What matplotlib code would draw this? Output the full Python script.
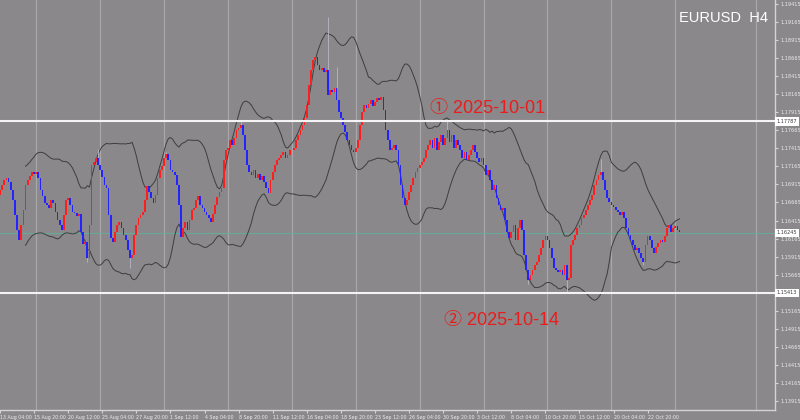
import numpy as np
import pandas as pd
import matplotlib
matplotlib.use("Agg")
import matplotlib.pyplot as plt

symbol = "EURUSD"
timeframe = "H4"

# H4 closes 12 Aug 00:00 .. 15 Aug 00:00 (only feed the Bollinger bands)
warmup_closes = [1.1621, 1.1628, 1.1635, 1.1649, 1.1663, 1.1670, 1.1677, 1.1684, 1.1691, 1.1698,
                 1.1700, 1.1695, 1.1684, 1.1670, 1.1649, 1.1628, 1.1614, 1.1635, 1.1656]

# H4 closes from 15 Aug 04:00 to 27 Oct 08:00
closes = [
    1.1691, 1.1698, 1.1703, 1.1709, 1.1706,
    1.1709, 1.1700, 1.1684, 1.1675, 1.1666, 1.1663,
    1.1659, 1.1670, 1.1666, 1.1653, 1.1642, 1.1635,
    1.1628, 1.1649, 1.1670, 1.1673, 1.1663, 1.1653,
    1.1652, 1.1648, 1.1651, 1.1626, 1.1609, 1.1612,
    1.1590, 1.1635, 1.1718, 1.1723, 1.1728, 1.1718,
    1.1711, 1.1702, 1.1691, 1.1687, 1.1649, 1.1617,
    1.1612, 1.1626, 1.1635, 1.1639, 1.1631, 1.1621,
    1.1614, 1.1601, 1.1590, 1.1594, 1.1621, 1.1635,
    1.1645, 1.1649, 1.1653, 1.1670, 1.1689, 1.1681,
    1.1673, 1.1666, 1.1677, 1.1700, 1.1711, 1.1717,
    1.1728, 1.1734, 1.1725, 1.1711, 1.1709, 1.1704,
    1.1691, 1.1663, 1.1619, 1.1631, 1.1639, 1.1628,
    1.1642, 1.1656, 1.1659, 1.1670, 1.1675, 1.1663,
    1.1659, 1.1653, 1.1649, 1.1645, 1.1639, 1.1651,
    1.1663, 1.1674, 1.1681, 1.1687, 1.1725, 1.1739,
    1.1742, 1.1753, 1.1746, 1.1756, 1.1767, 1.1770,
    1.1774, 1.1760, 1.1739, 1.1718, 1.1709, 1.1704,
    1.1711, 1.1700, 1.1706, 1.1698, 1.1703, 1.1695,
    1.1687, 1.1680, 1.1698, 1.1709, 1.1718, 1.1725,
    1.1728, 1.1732, 1.1736, 1.1728, 1.1732, 1.1739,
    1.1739, 1.1742, 1.1753, 1.1760, 1.1767, 1.1774,
    1.1783, 1.1801, 1.1829, 1.1850, 1.1864, 1.1868,
    1.1857, 1.1850, 1.1853, 1.1847, 1.1850, 1.1815,
    1.1822, 1.1820, 1.1825, 1.1808, 1.1792, 1.1783,
    1.1774, 1.1764, 1.1753, 1.1746, 1.1739, 1.1736,
    1.1742, 1.1753, 1.1774, 1.1792, 1.1801, 1.1797,
    1.1803, 1.1808, 1.1800, 1.1806, 1.1811, 1.1808,
    1.1813, 1.1795, 1.1767, 1.1753, 1.1739, 1.1742,
    1.1746, 1.1739, 1.1718, 1.1691, 1.1673, 1.1663,
    1.1670, 1.1681, 1.1691, 1.1700, 1.1709, 1.1714,
    1.1718, 1.1723, 1.1728, 1.1739, 1.1746, 1.1753,
    1.1742, 1.1756, 1.1739, 1.1750, 1.1760, 1.1746,
    1.1756, 1.1767, 1.1750, 1.1760, 1.1742, 1.1753,
    1.1746, 1.1739, 1.1728, 1.1736, 1.1725, 1.1732,
    1.1739, 1.1746, 1.1736, 1.1728, 1.1723, 1.1728,
    1.1718, 1.1704, 1.1711, 1.1698, 1.1684, 1.1691,
    1.1673, 1.1663, 1.1656, 1.1659, 1.1642, 1.1626,
    1.1617, 1.1626, 1.1635, 1.1614, 1.1631, 1.1642,
    1.1628, 1.1594, 1.1573, 1.1559, 1.1566, 1.1573,
    1.1580, 1.1584, 1.1594, 1.1603, 1.1614, 1.1620,
    1.1614, 1.1603, 1.1590, 1.1576, 1.1573, 1.1570,
    1.1573, 1.1566, 1.1580, 1.1559, 1.1562, 1.1608,
    1.1614, 1.1621, 1.1631, 1.1635, 1.1645, 1.1649,
    1.1656, 1.1663, 1.1670, 1.1677, 1.1691, 1.1698,
    1.1704, 1.1709, 1.1698, 1.1684, 1.1673, 1.1667,
    1.1663, 1.1660, 1.1656, 1.1653, 1.1649, 1.1653,
    1.1645, 1.1631, 1.1621, 1.1614, 1.1608, 1.1601,
    1.1603, 1.1596, 1.1590, 1.1584, 1.1608, 1.1620,
    1.1614, 1.1603, 1.1596, 1.1605, 1.1610, 1.1614,
    1.1612, 1.1620, 1.1631, 1.1635, 1.1626, 1.1631,
    1.1634, 1.1628, 1.1626,
]

# visible wick extremes (bar number -> price)
highs = {34: 1.1741, 66: 1.1737, 101: 1.1779, 142: 1.1923, 146: 1.1854, 198: 1.1779, 270: 1.1727}
lows = {29: 1.1584, 49: 1.1576, 236: 1.1553, 254: 1.1541, 290: 1.1580}

level_1 = 1.17787
level_2 = 1.15413
bid = 1.16245
note_1 = "① 2025-10-01"
note_2 = "② 2025-10-14"

# 1.15415 sits under the 1.15413 marker box, so it is not listed
price_ticks = [1.19415, 1.19165, 1.18915, 1.18665, 1.18415, 1.18165, 1.17915, 1.17665,
               1.17415, 1.17165, 1.16915, 1.16665, 1.16415, 1.16165, 1.15915, 1.15665,
               1.15165, 1.14915, 1.14665, 1.14415, 1.14165, 1.13915]

bg = "#8a888a"
bull = "#ff1e1e"
bear = "#2323ff"
txt = "#ececec"

all_c = np.array(warmup_closes + closes)
n_w = len(warmup_closes)
idx = np.arange(len(all_c)) - n_w
opens = np.r_[all_c[0], all_c[:-1]]

times = pd.date_range("2025-08-12 00:00", "2025-11-07 00:00", freq="4h")
times = times[times.dayofweek < 5][:len(all_c)]

s = pd.Series(all_c)
mid = s.rolling(20).mean()
sd = s.rolling(20).std(ddof=0)
upper = mid + 2 * sd
lower = mid - 2 * sd

fig = plt.figure(figsize=(8, 4.2), dpi=100, facecolor=bg)
ax = fig.add_axes([0, 10 / 420, 775 / 800, 410 / 420])
ax.set_facecolor(bg)
ax.set_xlim(-0.45, 351.8)
ax.set_ylim(1.137905, 1.19469)

# weekly separators
for i, t in zip(idx, times):
    if t.dayofweek == 0 and t.hour == 0 and i >= 0:
        ax.axvline(i, color="#a9a7a9", lw=0.9, zorder=1)
ax.axvline(343, color="#a9a7a9", lw=0.9, zorder=1)

ax.axhline(bid, color="#62ad98", lw=0.7, zorder=2)

ax.plot(idx, upper, color="#3e3e3e", lw=0.7, zorder=3)
ax.plot(idx, lower, color="#3e3e3e", lw=0.7, zorder=3)

# wicks
for k, v in highs.items():
    j = k + n_w
    ax.vlines(k, max(opens[j], all_c[j]), v, color="#b8b8c8", lw=0.6, zorder=3)
for k, v in lows.items():
    j = k + n_w
    ax.vlines(k, v, min(opens[j], all_c[j]), color="#b8b8c8", lw=0.6, zorder=3)

up = all_c >= opens
bottom = np.minimum(opens, all_c)
height = np.maximum(np.abs(all_c - opens), 0.00004)
ax.bar(idx[up], height[up], bottom=bottom[up], width=0.8, color=bull, lw=0, zorder=4)
ax.bar(idx[~up], height[~up], bottom=bottom[~up], width=0.8, color=bear, lw=0, zorder=4)

ax.axhline(level_1, color="#f4f4f4", lw=1.5, zorder=5)
ax.axhline(level_2, color="#f4f4f4", lw=1.5, zorder=5)

for sp in ["top", "left"]:
    ax.spines[sp].set_visible(False)
for sp in ["right", "bottom"]:
    ax.spines[sp].set_color("#d4d4d4")
    ax.spines[sp].set_linewidth(1)

ax.yaxis.tick_right()
ax.set_yticks(price_ticks)
ax.set_yticklabels([f"{p:.5f}" for p in price_ticks])
ax.tick_params(axis="y", length=2.5, color="#d4d4d4", labelsize=3.6, labelcolor=txt, pad=1.5)

lab_i = [i for i in idx if (i - 4) % 16 == 0]
lab_t = [times[i + n_w] for i in lab_i]
ax.set_xticks(lab_i)
ax.set_xticklabels([f"{t.day} {t:%b %H:%M}" for t in lab_t])
ax.tick_params(axis="x", length=2.5, color="#d4d4d4", labelsize=3.4, labelcolor=txt, pad=1)
for lbl in ax.get_xticklabels():
    lbl.set_horizontalalignment("left")
    lbl.set_clip_on(False)

for lev in [level_1, bid, level_2]:
    ax.text(1.002, lev, f"{lev:.5f}", transform=ax.get_yaxis_transform(), ha="left", va="center",
            fontsize=3.6, color="#3a3a3a", clip_on=False, zorder=10,
            bbox=dict(boxstyle="square,pad=0.35", fc="white", ec="none"))

fig.text(768 / 800, 1 - 18 / 420, f"{symbol}  {timeframe}", ha="right", va="center",
         fontsize=10.5, color="white", family=["Liberation Sans", "DejaVu Sans"])

fig.text(430 / 800, 1 - 108 / 420, note_1, ha="left", va="center", fontsize=13,
         color="#ea1c1c", family=["Liberation Sans", "Noto Sans CJK JP"])
fig.text(444 / 800, 1 - 320 / 420, note_2, ha="left", va="center", fontsize=13,
         color="#ea1c1c", family=["Liberation Sans", "Noto Sans CJK JP"])

fig.savefig("out.png", dpi=100, facecolor=bg)
